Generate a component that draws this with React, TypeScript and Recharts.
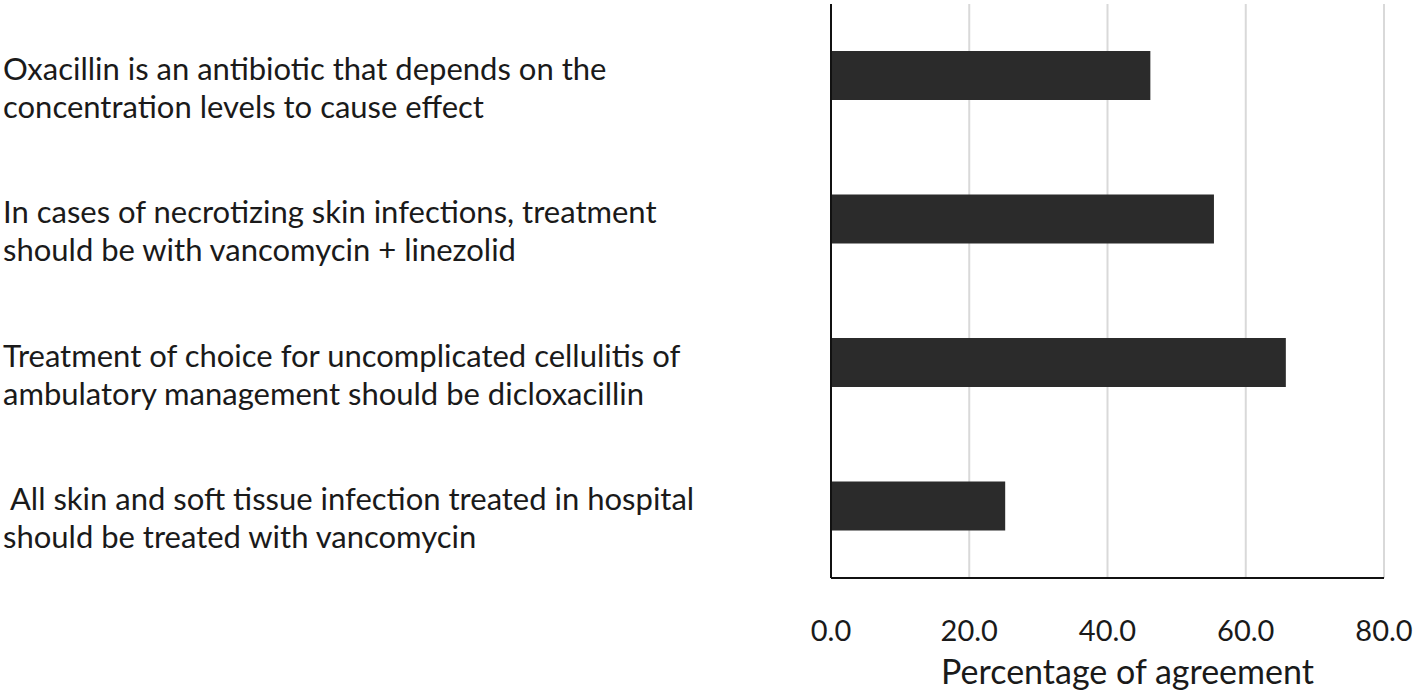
import {
  BarChart,
  Bar,
  XAxis,
  YAxis,
  CartesianGrid,
  Label,
} from "recharts";

const statements = [
  "Oxacillin is an antibiotic that depends on the\nconcentration levels to cause effect",
  "In cases of necrotizing skin infections, treatment\nshould be with vancomycin + linezolid",
  "Treatment of choice for uncomplicated cellulitis of\nambulatory management should be dicloxacillin",
  " All skin and soft tissue infection treated in hospital\nshould be treated with vancomycin",
];

const agreement = [46.2, 55.4, 65.8, 25.2];

const xTicks = [0, 20, 40, 60, 80];

const data = statements.map((s, i) => ({ statement: s, value: agreement[i] }));

const FONT = "Lato, 'Open Sans', sans-serif";

function StatementTick({ y, payload }: any) {
  const lines = String(payload.value).split("\n");
  return (
    <text
      x={3}
      y={y + 4}
      textAnchor="start"
      fill="#1a1a1a"
      fontSize={31}
      fontFamily={FONT}
      style={{ whiteSpace: "pre" }}
    >
      {lines.map((line, i) => (
        <tspan key={i} x={3} dy={i === 0 ? 0 : 38}>
          {line}
        </tspan>
      ))}
    </text>
  );
}

export default function App() {
  return (
    <div style={{ position: "absolute", left: 0, top: 0, background: "#fff" }}>
      <BarChart
        width={1418}
        height={700}
        data={data}
        layout="vertical"
        margin={{ top: 4, right: 34, bottom: 0, left: 0 }}
        style={{ overflow: "visible" }}
      >
        <CartesianGrid horizontal={false} stroke="#d9d9d9" strokeWidth={2} />
        <XAxis
          type="number"
          domain={[0, 80]}
          ticks={xTicks}
          tickFormatter={(v: number) => v.toFixed(1)}
          height={122}
          tickLine={false}
          tickSize={0}
          tickMargin={42}
          axisLine={{ stroke: "#111", strokeWidth: 2 }}
          tick={{ fill: "#1a1a1a", fontSize: 29, fontFamily: FONT }}
        >
          <Label
            value="Percentage of agreement"
            position="insideBottom"
            offset={16}
            dx={20}
            style={{ fill: "#1a1a1a", fontSize: 34, fontFamily: FONT }}
          />
        </XAxis>
        <YAxis
          type="category"
          dataKey="statement"
          width={831}
          tickLine={false}
          axisLine={{ stroke: "#111", strokeWidth: 2 }}
          tick={<StatementTick />}
        />
        <Bar
          dataKey="value"
          fill="#2b2b2b"
          barSize={49}
          isAnimationActive={false}
        />
      </BarChart>
    </div>
  );
}
